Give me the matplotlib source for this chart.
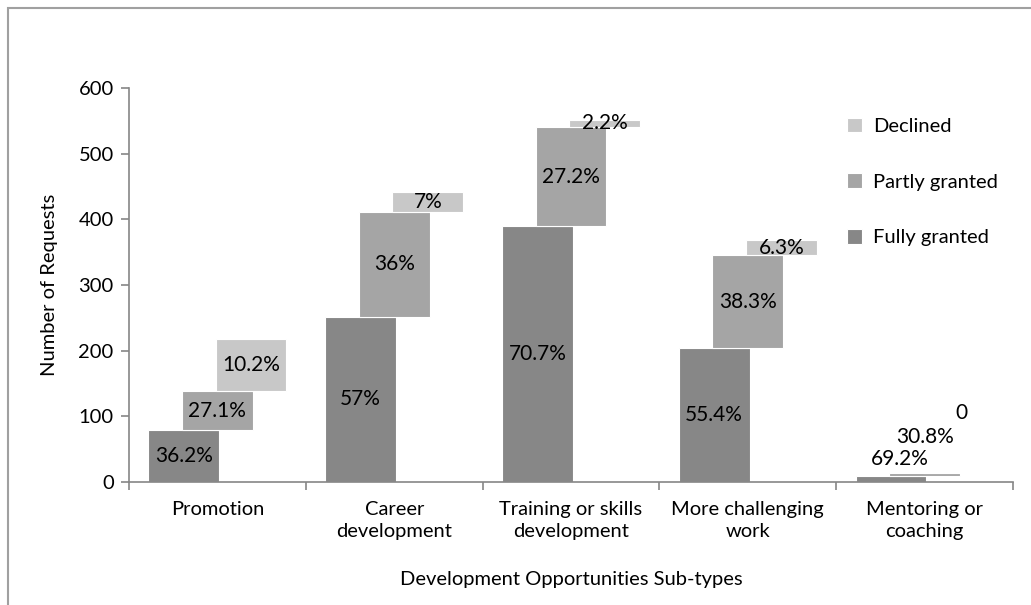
import matplotlib
matplotlib.use("Agg")
import matplotlib.pyplot as plt
from matplotlib.patches import Rectangle
import numpy as np

plt.rcParams['font.family'] = ['Lato', 'DejaVu Sans']

categories = ["Promotion", "Career\ndevelopment", "Training or skills\ndevelopment",
              "More challenging\nwork", "Mentoring or\ncoaching"]
fully = [79, 252, 390, 204, 9]
partly = [59, 159, 150, 141, 4]
declined = [80, 31, 12, 23, 0]
fully_pct = ["36.2%", "57%", "70.7%", "55.4%", "69.2%"]
partly_pct = ["27.1%", "36%", "27.2%", "38.3%", "30.8%"]
declined_pct = ["10.2%", "7%", "2.2%", "6.3%", "0"]
yticks = [0, 100, 200, 300, 400, 500, 600]

c_full = "#878787"
c_part = "#a5a5a5"
c_decl = "#c8c8c8"
axis_col = "#868686"

fig = plt.figure(figsize=(10.31, 6.05), dpi=100)
ax = fig.add_axes([129 / 1031, 1 - 482 / 605, (1013 - 129) / 1031, (482 - 88) / 605])

x = np.arange(len(categories))
w = 0.40
off = 0.19
fully_a = np.array(fully)
partly_a = np.array(partly)
declined_a = np.array(declined)

b1 = ax.bar(x - off, fully_a, w, color=c_full, edgecolor="white", linewidth=0.8, label="Fully granted")
b2 = ax.bar(x, partly_a, w, bottom=fully_a, color=c_part, edgecolor="white", linewidth=0.8, label="Partly granted")
b3 = ax.bar(x + off, declined_a, w, bottom=fully_a + partly_a, color=c_decl, edgecolor="white", linewidth=0.8, label="Declined")

fs = 15
for i in range(len(categories) - 1):
    ax.text(x[i] - off, fully_a[i] / 2, fully_pct[i], ha="center", va="center", fontsize=fs)
    ax.text(x[i], fully_a[i] + partly_a[i] / 2, partly_pct[i], ha="center", va="center", fontsize=fs)
    ax.text(x[i] + off, fully_a[i] + partly_a[i] + declined_a[i] / 2, declined_pct[i],
            ha="center", va="center", fontsize=fs)

# labels of the tiny last group sit above the bars
k = len(categories) - 1
ax.text(x[k] - 0.14, 35, fully_pct[k], ha="center", va="center", fontsize=fs)
ax.text(x[k] + 0.0, 68, partly_pct[k], ha="center", va="center", fontsize=fs)
ax.text(x[k] + 0.21, 105, declined_pct[k], ha="center", va="center", fontsize=fs)

ax.set_xlim(-0.5, len(categories) - 0.5)
ax.set_ylim(0, 600)
ax.set_yticks(yticks)
ax.set_xticks(x)
ax.set_xticklabels(categories, fontsize=14.5, linespacing=1.35)
ax.set_xticks(np.arange(-0.5, len(categories)), minor=True)
ax.tick_params(axis="x", which="major", length=0, pad=14)
ax.tick_params(axis="x", which="minor", length=6, color=axis_col, width=1.2)
ax.tick_params(axis="y", length=6, color=axis_col, width=1.2, labelsize=14.5, pad=5)

for s in ["top", "right"]:
    ax.spines[s].set_visible(False)
for s in ["left", "bottom"]:
    ax.spines[s].set_color(axis_col)
    ax.spines[s].set_linewidth(1.2)

ax.set_ylabel("Number of Requests", fontsize=14.5, labelpad=15)
ax.set_xlabel("Development Opportunities Sub-types", fontsize=14.5, labelpad=22)

leg = ax.legend(handles=[b3, b2, b1], loc="upper left", bbox_to_anchor=(0.812, 0.925),
                frameon=False, fontsize=14.5, labelspacing=1.9, handlelength=0.75,
                handleheight=0.75, handletextpad=0.55, borderaxespad=0, borderpad=0)

# outer chart frame
fig.patches.append(Rectangle((8 / 1031, -0.1), 1.2, 1.1 - 8 / 605,
                             transform=fig.transFigure, fill=False,
                             edgecolor="#a0a0a0", linewidth=1.5))

fig.savefig("out.png", dpi=100, facecolor="white")
